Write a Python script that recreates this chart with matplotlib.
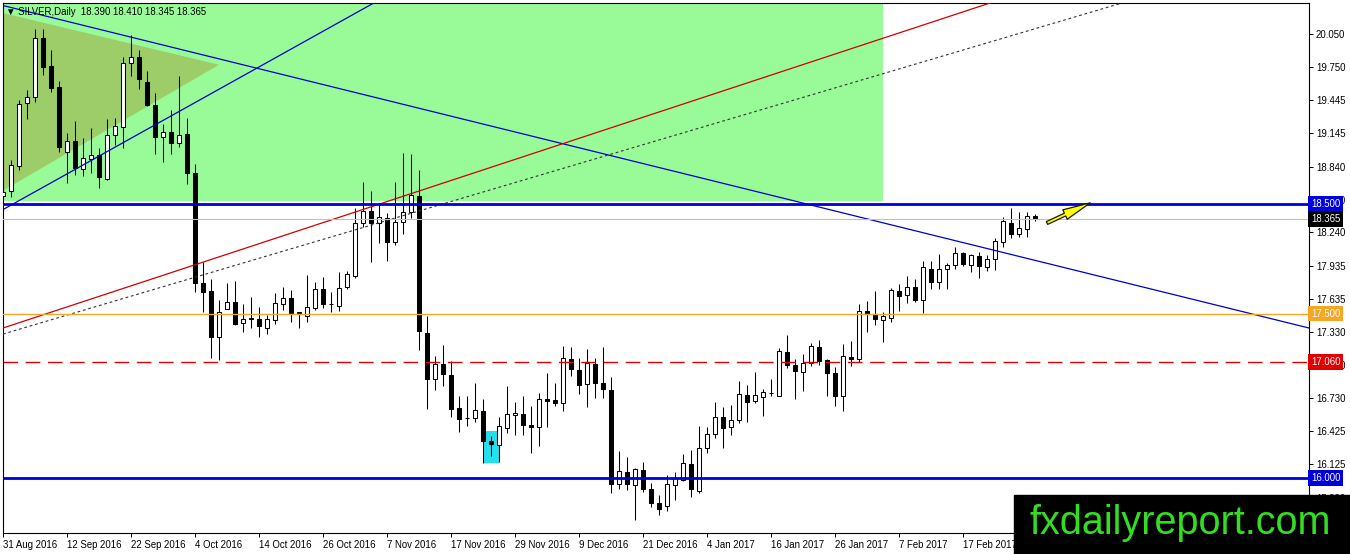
import matplotlib.pyplot as plt
import matplotlib.transforms as mtransforms
from matplotlib.patches import Rectangle, Polygon
import numpy as np

plt.switch_backend('Agg')
plt.rcParams['font.family'] = ['Liberation Sans', 'DejaVu Sans']

# ---- daily OHLC, SILVER, 31 Aug 2016 .. early Mar 2017 ----
opens = [
    18.572, 18.618, 18.846, 19.420, 19.475, 20.013, 19.758, 19.566, 18.973, 19.074,
    18.818, 18.910, 18.946, 18.727, 19.129, 19.202, 19.785, 19.840, 19.612, 19.402,
    19.110, 19.156, 19.056, 19.138, 18.782, 17.778, 17.705, 17.286, 17.541, 17.605,
    17.414, 17.450, 17.450, 17.368, 17.441, 17.587, 17.642, 17.505, 17.477, 17.550,
    17.724, 17.587, 17.569, 17.742, 17.842, 18.326, 18.435, 18.326, 18.371, 18.152,
    18.335, 18.426, 18.572, 17.322, 16.903, 17.040, 16.939, 16.638, 16.547, 16.547,
    16.611, 16.337, 16.301, 16.456, 16.574, 16.583, 16.483, 16.465, 16.720, 16.711,
    16.684, 17.085, 16.985, 16.857, 17.040, 16.866, 16.802, 15.945, 16.054, 15.936,
    16.073, 15.899, 15.772, 15.744, 15.936, 15.981, 16.127, 15.881, 16.273, 16.401,
    16.556, 16.465, 16.529, 16.757, 16.702, 16.739, 16.775, 16.748, 17.149, 17.030,
    16.967, 17.049, 17.195, 17.076, 16.958, 16.748, 17.103, 17.085, 17.523, 17.496,
    17.441, 17.459, 17.705, 17.669, 17.742, 17.623, 17.906, 17.788, 17.906, 17.943,
    18.052, 17.943, 18.025, 17.924, 17.997, 18.152, 18.326, 18.225, 18.271, 18.390,
]
highs = [
    18.837, 18.900, 19.448, 19.539, 20.096, 20.096, 19.904, 19.621, 19.147, 19.256,
    19.101, 19.192, 19.010, 19.274, 19.284, 19.840, 20.041, 19.904, 19.712, 19.512,
    19.229, 19.357, 19.667, 19.284, 18.864, 17.970, 17.815, 17.623, 17.778, 17.797,
    17.587, 17.651, 17.560, 17.487, 17.687, 17.742, 17.715, 17.514, 17.851, 17.788,
    17.833, 17.696, 17.879, 17.888, 18.463, 18.700, 18.618, 18.490, 18.417, 18.700,
    18.964, 18.955, 18.809, 17.477, 17.113, 17.213, 17.067, 16.748, 16.748, 16.866,
    16.720, 16.383, 16.556, 16.839, 16.693, 16.748, 16.656, 16.775, 16.958, 16.866,
    17.204, 17.195, 17.094, 17.176, 17.094, 17.195, 16.921, 16.246, 16.191, 16.091,
    16.146, 15.954, 15.845, 16.027, 16.054, 16.219, 16.255, 16.474, 16.465, 16.693,
    16.647, 16.666, 16.885, 16.848, 16.967, 16.812, 16.903, 17.185, 17.304, 17.085,
    17.131, 17.231, 17.259, 17.085, 17.012, 17.222, 17.249, 17.587, 17.614, 17.705,
    17.514, 17.733, 17.769, 17.842, 17.815, 17.979, 17.979, 18.043, 17.961, 18.107,
    18.061, 18.043, 18.061, 18.034, 18.189, 18.381, 18.463, 18.426, 18.426, 18.410,
]
lows = [
    18.536, 18.563, 18.809, 19.274, 19.430, 19.676, 19.521, 18.973, 18.691, 18.764,
    18.755, 18.782, 18.645, 18.718, 19.037, 19.010, 19.667, 19.548, 19.393, 18.955,
    18.882, 18.955, 19.019, 18.682, 17.696, 17.514, 17.094, 17.076, 17.541, 17.395,
    17.331, 17.368, 17.286, 17.313, 17.404, 17.532, 17.423, 17.368, 17.423, 17.532,
    17.550, 17.514, 17.523, 17.724, 17.824, 18.289, 17.970, 18.143, 17.979, 18.125,
    18.225, 18.371, 17.167, 16.629, 16.802, 16.839, 16.556, 16.419, 16.474, 16.511,
    16.137, 16.200, 16.146, 16.410, 16.392, 16.392, 16.228, 16.292, 16.465, 16.656,
    16.611, 16.930, 16.766, 16.647, 16.729, 16.729, 15.863, 15.899, 15.890, 15.617,
    15.872, 15.735, 15.662, 15.699, 15.799, 15.972, 15.826, 15.863, 16.228, 16.365,
    16.273, 16.392, 16.501, 16.511, 16.684, 16.565, 16.748, 16.748, 17.003, 16.720,
    16.793, 17.021, 17.030, 16.748, 16.656, 16.611, 17.021, 17.058, 17.331, 17.395,
    17.240, 17.423, 17.523, 17.596, 17.605, 17.505, 17.724, 17.724, 17.724, 17.906,
    17.934, 17.879, 17.824, 17.888, 17.897, 18.107, 18.189, 18.198, 18.198, 18.345,
]
closes = [
    18.609, 18.855, 19.411, 19.475, 20.013, 19.749, 19.557, 19.019, 19.074, 18.828,
    18.919, 18.946, 18.745, 19.129, 19.211, 19.785, 19.840, 19.639, 19.402, 19.110,
    19.156, 19.056, 19.129, 18.782, 17.778, 17.696, 17.286, 17.514, 17.605, 17.404,
    17.450, 17.459, 17.386, 17.450, 17.596, 17.642, 17.505, 17.514, 17.560, 17.724,
    17.587, 17.585, 17.733, 17.861, 18.326, 18.435, 18.326, 18.381, 18.152, 18.335,
    18.426, 18.581, 17.341, 16.903, 17.040, 16.948, 16.629, 16.538, 16.545, 16.620,
    16.337, 16.310, 16.474, 16.583, 16.593, 16.483, 16.465, 16.720, 16.702, 16.684,
    17.094, 16.994, 16.848, 17.049, 16.866, 16.812, 15.945, 16.064, 15.945, 16.082,
    15.899, 15.772, 15.717, 15.945, 16.000, 16.137, 15.899, 16.273, 16.401, 16.556,
    16.456, 16.529, 16.766, 16.693, 16.757, 16.784, 16.773, 17.158, 17.030, 16.976,
    17.049, 17.204, 17.067, 16.958, 16.748, 17.113, 17.085, 17.523, 17.496, 17.450,
    17.477, 17.715, 17.660, 17.742, 17.623, 17.924, 17.788, 17.906, 17.943, 18.052,
    17.952, 18.034, 17.934, 17.997, 18.162, 18.344, 18.225, 18.280, 18.390, 18.365,
]

date_labels = ['31 Aug 2016', '12 Sep 2016', '22 Sep 2016', '4 Oct 2016', '14 Oct 2016',
               '26 Oct 2016', '7 Nov 2016', '17 Nov 2016', '29 Nov 2016', '9 Dec 2016',
               '21 Dec 2016', '4 Jan 2017', '16 Jan 2017', '26 Jan 2017', '7 Feb 2017',
               '17 Feb 2017']
label_step = 8  # one date label every 8 bars
price_ticks = [20.050, 19.750, 19.445, 19.145, 18.840, 18.540, 18.240, 17.935,
               17.635, 17.330, 17.030, 16.730, 16.425, 16.125, 15.820]

# horizontal levels: (price, line colour, box colour, style, width)
levels = [
    (18.500, '#0000dd', '#0000dd', '-', 2.0),
    (18.365, '#c0c0c0', '#000000', '-', 0.8),
    (17.500, '#f5a623', '#f5a623', '-', 1.0),
    (17.060, '#e00000', '#e00000', (0, (10.5, 5.5)), 1.0),
    (16.000, '#0000dd', '#0000dd', '-', 2.0),
]

# drawn objects (bar index, price)
zone = dict(x0=-5, x1=110, y0=18.527, y1=21.0)
triangle = [(-0.5, 20.25), (27.0, 19.77), (-0.5, 18.60)]
down_line = [(0.0, 20.310), (163.25, 17.368)]
up_line = [(2.375, 18.545), (46.125, 20.324)]
red_line = [(0.0, 17.368), (123.375, 20.333)]
dotted_line = [(0.0, 17.313), (139.875, 20.333)]
cyan_box = dict(x0=60, x1=62, y0=16.137, y1=16.428)
arrow_tail = (130.5, 18.326)
arrow_tip = (135.9, 18.510)

W, H = 1350, 554
fig = plt.figure(figsize=(W / 100, H / 100), dpi=100)
ax = fig.add_axes([3 / W, 1 - 533 / H, (1309 - 3) / W, (533 - 3) / H])
ax.set_xlim(0, 163.25)
ax.set_ylim(15.498, 20.333)

# background objects
ax.add_patch(Rectangle((zone['x0'], zone['y0']), zone['x1'] - zone['x0'],
                       zone['y1'] - zone['y0'], color='#98fb98', lw=0, zorder=0))
ax.add_patch(Polygon(triangle, closed=True, color='#9dcd68', lw=0, zorder=0.5))
ax.add_patch(Rectangle((cyan_box['x0'], cyan_box['y0']), cyan_box['x1'] - cyan_box['x0'],
                       cyan_box['y1'] - cyan_box['y0'], color='#22e0ee', lw=0, zorder=0.6))

# candles
o = np.array(opens)
h = np.array(highs)
l = np.array(lows)
c = np.array(closes)
idx = np.arange(len(o))
up = c >= o
ax.vlines(idx, l, h, color='black', lw=0.75, zorder=3)
body_lo = np.minimum(o, c)
body_h = np.maximum(np.abs(c - o), 0.004)
ax.bar(idx[up], body_h[up], bottom=body_lo[up], width=0.6, color='white',
       edgecolor='black', linewidth=0.75, zorder=4)
ax.bar(idx[~up], body_h[~up], bottom=body_lo[~up], width=0.6, color='black',
       edgecolor='black', linewidth=0.75, zorder=4)

# trend lines
ax.axline(*down_line, color='#0000cc', lw=0.9, zorder=5)
ax.axline(*up_line, color='#0000cc', lw=0.9, zorder=5)
ax.axline(*red_line, color='#d00000', lw=0.9, zorder=5)
ax.axline(*dotted_line, color='#333333', lw=0.8, ls=(0, (2.5, 2.5)), zorder=5)

# levels + price boxes on the right
box_tr = mtransforms.blended_transform_factory(ax.transAxes, ax.transData)
for price, lc, bc, ls, lw in levels:
    ax.axhline(price, color=lc, lw=lw, ls=ls, zorder=5)
    ax.text(1.0016, price, f'{price:.3f}', transform=box_tr, ha='left', va='center',
            fontsize=6.9, color='white', clip_on=False, zorder=10,
            bbox=dict(boxstyle='square,pad=0.3', fc=bc, ec='none'))

ax.annotate('', xy=arrow_tip, xytext=arrow_tail, zorder=6,
            arrowprops=dict(arrowstyle='simple,head_length=2.0,head_width=0.75,tail_width=0.22',
                            fc='#ffff00', ec='#1a1a00', lw=0.9, mutation_scale=10,
                            shrinkA=0, shrinkB=0))

# axes styling
for s in ax.spines.values():
    s.set_linewidth(0.8)
    s.set_color('black')
ax.yaxis.tick_right()
ax.set_yticks(price_ticks)
ax.set_yticklabels([f'{v:.3f}' for v in price_ticks])
ax.set_xticks(np.arange(len(date_labels)) * label_step)
ax.set_xticklabels(date_labels)
ax.tick_params(axis='both', direction='out', length=3, width=0.7, labelsize=6.9,
               colors='black', pad=2)
for t in ax.get_xticklabels():
    t.set_ha('left')

ax.text(0.0025, 0.983, '\u25bc SILVER,Daily  18.390 18.410 18.345 18.365',
        transform=ax.transAxes, ha='left', va='center', fontsize=6.9,
        family=['Liberation Sans', 'DejaVu Sans'], zorder=10)

# watermark
fig.patches.append(Rectangle((1014 / W, 0), 1 - 1014 / W, (H - 495) / H,
                             transform=fig.transFigure, color='black', zorder=20))
fig.text(1030 / W, (H - 534) / H, 'fxdailyreport.com', color='#33dd22',
         fontsize=28.5, family='Liberation Sans', va='baseline', ha='left', zorder=21)

fig.savefig('out.png', dpi=100, facecolor='white')
